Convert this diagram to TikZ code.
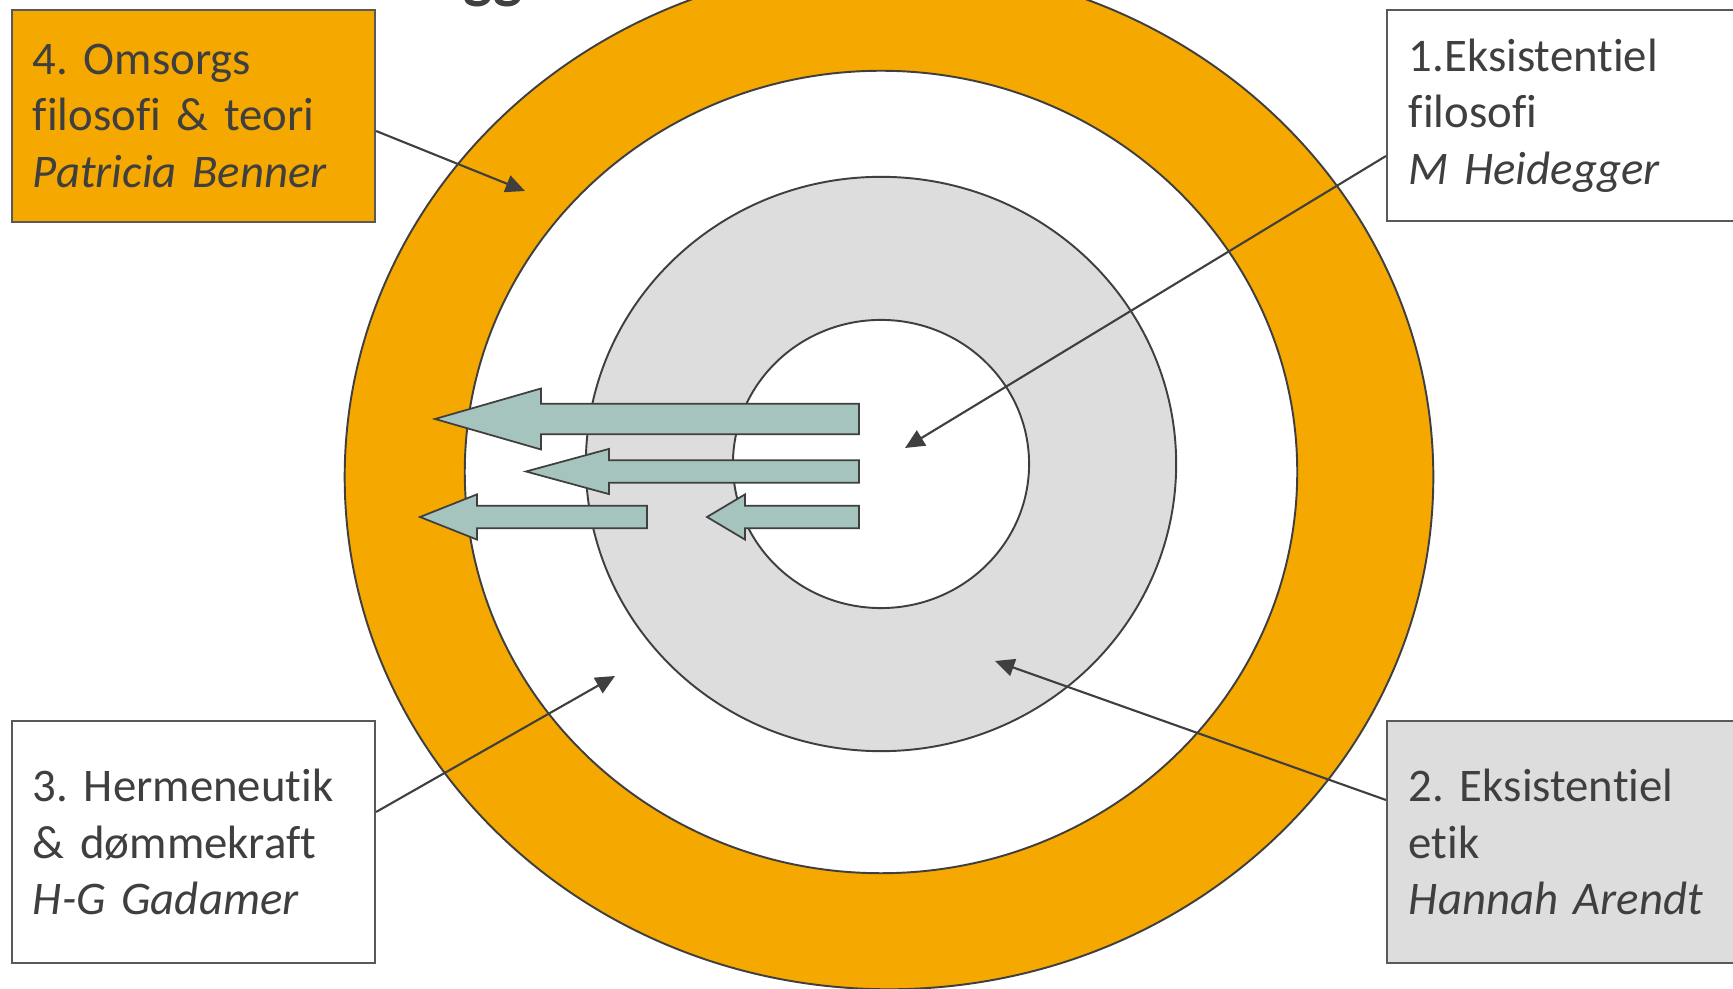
\documentclass[tikz,border=0pt]{standalone}
\usepackage{fontspec}
\setmainfont[Ligatures=NoCommon]{Carlito}
\frenchspacing
\usepackage{tikz}
\usetikzlibrary{positioning, arrows.meta}
\definecolor{ringorange}{HTML}{F5A800}
\definecolor{ringgrey}{HTML}{DDDDDD}
\definecolor{arrowteal}{HTML}{A5C4BE}
\definecolor{inkgrey}{HTML}{3F3F3F}
\definecolor{edgegrey}{HTML}{595959}

\begin{document}
\begin{tikzpicture}[
  x=0.01cm, y=-0.01cm,
  font=\fontsize{13.3}{16.1}\selectfont,
  ring/.style={draw=inkgrey, line width=0.55pt},
  box/.style={draw=edgegrey, line width=0.55pt, text=inkgrey, align=left,
    inner xsep=0.21cm, inner ysep=0pt, text width=3.21cm},
  rbox/.style={box, inner xsep=0.22cm, text width=3.29cm},
  conn/.style={-{Triangle[length=5.5pt, width=5pt]}, line width=0.6pt,
    draw=inkgrey},
  blk/.style={draw=inkgrey, line width=0.5pt, fill=arrowteal, line join=miter},
]
  \useasboundingbox (0,0) rectangle (1733,989);

  % title, cut off at the top
  \node[anchor=base west, inner sep=0, text=inkgrey,
    font=\bfseries\fontsize{17.6}{20}\selectfont] (ttl) at (463,-3) {gg};

  % rings
  \draw[ring, fill=ringorange] (889,477) ellipse [x radius=5.44cm, y radius=5.12cm];
  \draw[ring, fill=white] (881,472) ellipse [x radius=4.16cm, y radius=4.01cm];
  \draw[ring, fill=ringgrey] (881,464) ellipse [x radius=2.95cm, y radius=2.87cm];
  \draw[ring, fill=white] (881,464) ellipse [x radius=1.48cm, y radius=1.44cm];

  % block arrows pointing outwards
  \foreach \tx/\ty/\hx/\ex/\hh/\sh in {435/419/541/859/30.5/15.3,
      526/471.5/609/859/22.6/11.3, 420/517/477/647/22.6/11.3,
      707/517/745/859/22.6/11.3}
    \draw[blk] (\tx,\ty) -- (\hx,\ty-\hh) -- (\hx,\ty-\sh) -- (\ex,\ty-\sh)
      -- (\ex,\ty+\sh) -- (\hx,\ty+\sh) -- (\hx,\ty+\hh) -- cycle;

  % text boxes
  \node[box, fill=ringorange, minimum height=2.12cm] (b4) at (193.5,116)
    {4. Omsorgs\\filosofi \& teori\\\textit{Patricia Benner}};
  \node[rbox, fill=white, minimum height=2.11cm] (b1) at (1573.5,115.5)
    {1.Eksistentiel\\filosofi\\\textit{M Heidegger}};
  \node[box, fill=white, minimum height=2.42cm] (b3) at (193.5,842)
    {3. Hermeneutik\\\& dømmekraft\\\textit{H-G Gadamer}};
  \node[rbox, fill=ringgrey, minimum height=2.42cm] (b2) at (1573.5,842)
    {2. Eksistentiel\\etik\\\textit{Hannah Arendt}};

  % pointers into the rings
  \coordinate (t1) at (905,448);
  \coordinate (t2) at (995,661);
  \coordinate (t3) at (615,676);
  \coordinate (t4) at (525,191);
  \draw[conn] ([yshift=-0.405cm]b1.west) -- (t1);
  \draw[conn] ([yshift=0.42cm]b2.west) -- (t2);
  \draw[conn] ([yshift=0.30cm]b3.east) -- (t3);
  \draw[conn] ([yshift=-0.15cm]b4.east) -- (t4);
\end{tikzpicture}
\end{document}
